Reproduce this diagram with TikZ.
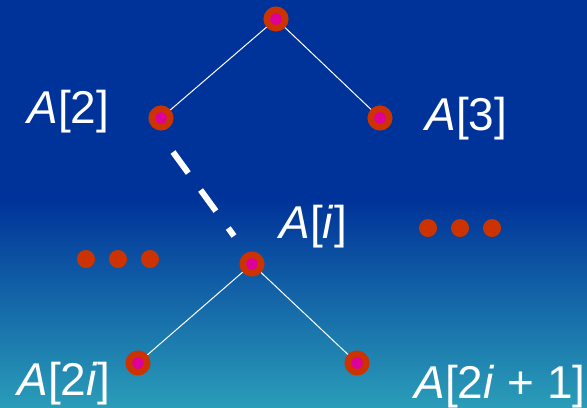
\documentclass[tikz,border=0pt]{standalone}
\usepackage{fontspec}
\setmainfont{Liberation Sans}
\definecolor{bgtop}{HTML}{003399}
\definecolor{bgbot}{HTML}{2A9DB8}
\definecolor{ring}{HTML}{CC3300}
\definecolor{core}{HTML}{DD0099}
\tikzset{
  heapnode/.style={circle, draw=ring, fill=core, line width=3.25pt, minimum size=9.25pt, inner sep=0pt, outer sep=1.625pt},
  dotnode/.style={circle, fill=ring, minimum size=9pt, inner sep=0pt},
  edge/.style={white, line width=0.5pt},
  lbl/.style={anchor=base west, inner sep=0pt, text=white, font=\fontsize{23}{26}\selectfont}
}

\begin{document}
\begin{tikzpicture}[x=0.5pt,y=-0.5pt]
    \useasboundingbox (0,0) rectangle (587,407);
    \fill [bgtop] (0,0) rectangle (587,201);
    \shade [top color=bgtop, bottom color=bgbot] (0,200) rectangle (587,407);
    \node [heapnode] (root) at (276,19) {};
    \node [heapnode] (l) at (161,118) {};
    \node [heapnode] (r) at (380,118) {};
    \node [heapnode] (ai) at (252,264) {};
    \node [heapnode] (lc) at (138,363) {};
    \node [heapnode] (rc) at (357,363) {};
    \draw [edge] (root) -- (l);
    \draw [edge] (root) -- (r);
    \draw [edge] (ai) -- (lc);
    \draw [edge] (ai) -- (rc);
    \coordinate (dashtop) at (173,152);
    \coordinate (dashbot) at (234,236);
    \draw [white, line width=3pt, dash pattern=on 13pt off 10.5pt] (dashtop) -- (dashbot);
    \node [dotnode] (d1) at (428,228) {};
    \node [dotnode] (d2) at (460,228) {};
    \node [dotnode] (d3) at (492,228) {};
    \node [dotnode] (d4) at (86,259) {};
    \node [dotnode] (d5) at (118,259) {};
    \node [dotnode] (d6) at (150,259) {};
    \node [lbl] (lbll) at (27,123) {\textit{A}[2]};
    \node [lbl] (lblr) at (425,130) {\textit{A}[3]};
    \node [lbl] (lblai) at (279,238) {\textit{A}[\textit{i}]};
    \node [lbl] (lbllc) at (17,395) {\textit{A}[2\textit{i}]};
    \node [lbl] (lblrc) at (414,398) {\textit{A}[2\textit{i} + 1]};
\end{tikzpicture}
\end{document}
